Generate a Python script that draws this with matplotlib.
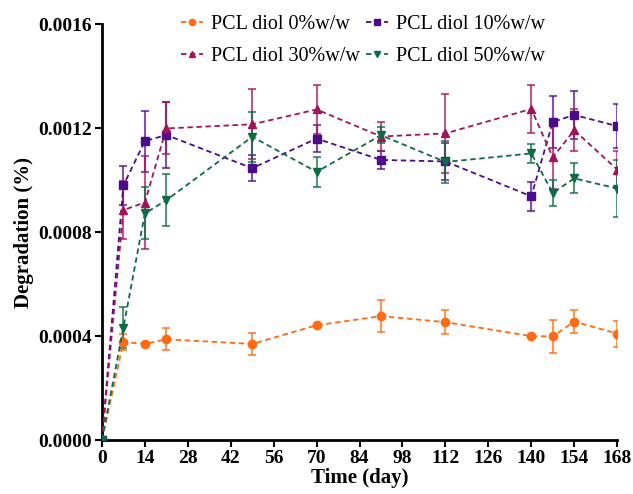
import matplotlib.pyplot as plt
from matplotlib.ticker import FormatStrFormatter

days = [0, 7, 14, 21, 49, 70, 91, 112, 140, 147, 154, 168]

pcl0 = [0, 0.000378, 0.00037, 0.000388, 0.00037, 0.000442, 0.000477, 0.000454, 0.0004, 0.000399, 0.000456, 0.00041]
pcl0_err = [0, 0.00003, 0, 0.000043, 0.000042, 0, 0.000062, 0.000045, 0, 0.000063, 0.000044, 0.00005]

pcl10 = [0, 0.00098, 0.00115, 0.001174, 0.001046, 0.00116, 0.001078, 0.001072, 0.000938, 0.001224, 0.001251, 0.001208]
pcl10_err = [0, 0.000075, 0.000118, 0.000127, 0.000051, 0.000053, 0.000036, 0.00007, 0.000055, 0.0001, 0.000092, 0.000085]

pcl30 = [0, 0.000885, 0.000914, 0.001199, 0.001215, 0.001272, 0.001168, 0.00118, 0.001274, 0.001088, 0.001192, 0.001041]
pcl30_err = [0, 0.000113, 0.00018, 0.0001, 0.000135, 0.000094, 0.000056, 0.000153, 0.000092, 0.00012, 0.00008, 0.000072]

pcl50 = [0, 0.000433, 0.000872, 0.000923, 0.001167, 0.001032, 0.001173, 0.00107, 0.001103, 0.000951, 0.001007, 0.000968]
pcl50_err = [0, 0.00008, 0.0001, 0.0001, 0.000096, 0.000058, 0.00003, 0.00008, 0.000035, 0.000049, 0.000058, 0.00011]

labels = ['PCL diol 0%w/w', 'PCL diol 10%w/w', 'PCL diol 30%w/w', 'PCL diol 50%w/w']
colors = ['#FF6A13', '#4B0C8C', '#A3135A', '#0E6B45']
markers = ['o', 's', '^', 'v']

plt.rcParams['font.family'] = 'Liberation Serif'

fig = plt.figure(figsize=(6.33, 4.94), dpi=100)
ax = fig.add_axes([0.161, 0.109, 0.814, 0.842])

series = [(pcl0, pcl0_err), (pcl10, pcl10_err), (pcl30, pcl30_err), (pcl50, pcl50_err)]
handles = []
for (vals, errs), lab, c, m in zip(series, labels, colors, markers):
    ax.errorbar(days, vals, yerr=errs, fmt='none', ecolor=c, alpha=0.7,
                elinewidth=1.5, capsize=3, capthick=1.5, zorder=2)
    h, = ax.plot(days, vals, linestyle='--', color=c, linewidth=1.3,
                 marker=m, markersize=6, label=lab, zorder=3,
                 dashes=(3, 2))
    handles.append(h)

ax.set_xlim(0, 168)
ax.set_ylim(0, 0.0016)
ax.set_xticks(range(0, 169, 14))
ax.set_yticks([0, 0.0004, 0.0008, 0.0012, 0.0016])
ax.yaxis.set_major_formatter(FormatStrFormatter('%.4f'))
ax.spines['top'].set_visible(False)
ax.spines['right'].set_visible(False)
ax.spines['left'].set_linewidth(2)
ax.spines['bottom'].set_linewidth(2)
ax.tick_params(width=1.5, length=5, labelsize=14, pad=2)
for t in ax.get_xticklabels() + ax.get_yticklabels():
    t.set_fontweight('bold')

ax.set_xlabel('Time (day)', fontsize=15, fontweight='bold', labelpad=1)
ax.set_ylabel('Degradation (%)', fontsize=15, fontweight='bold', labelpad=3)

# legend fills by column, so reorder to get 0/10 on the first row
ax.legend(handles=[handles[0], handles[2], handles[1], handles[3]],
          ncol=2, loc='upper center', bbox_to_anchor=(0.507, 1.065),
          frameon=False, fontsize=14.5, handlelength=1.1, markerscale=0.75,
          columnspacing=0.3, handletextpad=0.4, labelspacing=0.6)

fig.savefig('out.png', dpi=100)
